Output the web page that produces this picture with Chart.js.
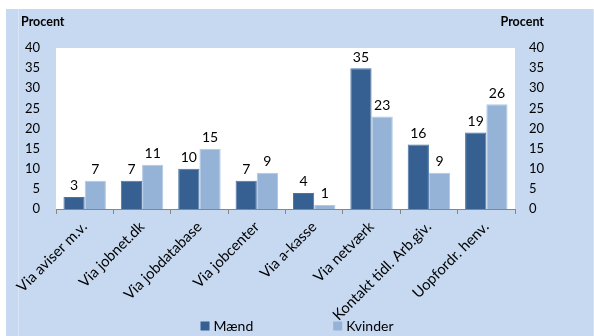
<!DOCTYPE html>
<html>
<head>
<meta charset="utf-8">
<script src="https://cdn.jsdelivr.net/npm/chart.js@4/dist/chart.umd.min.js"></script>
<style>
  html, body { margin: 0; padding: 0; background: #ffffff; }
  #ramme {
    position: absolute; left: 6px; top: 9px; width: 587px; height: 327px;
    background: #c6d9f1; border-right: 1px solid #d6e3f4;
  }
  #streg { position: absolute; left: 18px; top: 9px; width: 1px; height: 327px; background: #d9e5f4; }
  #wrap { position: absolute; left: 0; top: 0; width: 594px; height: 336px; }
</style>
</head>
<body>
<div id="ramme"></div>
<div id="streg"></div>
<div id="wrap"><canvas id="myCanvas"></canvas></div>
<script>
let kategorier = ["Via aviser m.v.", "Via jobnet.dk", "Via jobdatabase", "Via jobcenter",
  "Via a-kasse", "Via netværk", "Kontakt tidl. Arb.giv.", "Uopfordr. henv."];
let maend = [3, 7, 10, 7, 4, 35, 16, 19];
let kvinder = [7, 11, 15, 9, 1, 23, 9, 26];
let yMin = 0;
let yMax = 40;
let yStep = 5;

let skrift = "Lato";

// tal over søjlerne
let vaerdiPlugin = {
  id: "vaerdier",
  afterDatasetsDraw(chart) {
    let ctx = chart.ctx;
    ctx.save();
    ctx.font = "14px " + skrift;
    ctx.fillStyle = "#000000";
    ctx.textAlign = "center";
    ctx.textBaseline = "bottom";
    chart.data.datasets.forEach((ds, i) => {
      chart.getDatasetMeta(i).data.forEach((bar, j) => {
        ctx.fillText(ds.data[j], bar.x, bar.y - 4);
      });
    });
    ctx.restore();
  }
};

// aksetitler og forklaring
let tekstPlugin = {
  id: "tekster",
  afterDraw(chart) {
    let ctx = chart.ctx;
    ctx.save();
    ctx.fillStyle = "#000000";
    ctx.textBaseline = "middle";
    ctx.font = "bold 12.5px " + skrift;
    ctx.textAlign = "left";
    ctx.fillText("Procent", 21, 22);
    ctx.textAlign = "right";
    ctx.fillText("Procent", 544, 22);

    ctx.font = "14px " + skrift;
    ctx.textAlign = "left";
    let ds = chart.data.datasets;
    let boks = 9, luft = 4, mellem = 80;
    let bredder = ds.map(d => boks + luft + ctx.measureText(d.label).width);
    let total = bredder.reduce((a, b) => a + b, 0) + mellem * (ds.length - 1);
    let x = chart.width / 2 - total / 2;
    let y = 326;
    ds.forEach((d, i) => {
      ctx.fillStyle = d.backgroundColor;
      ctx.fillRect(x, y - 4.5, boks, boks);
      ctx.fillStyle = "#000000";
      ctx.fillText(d.label, x + boks + luft, y);
      x += bredder[i] + mellem;
    });
    ctx.restore();
  }
};

let plotBaggrund = {
  id: "plotBaggrund",
  beforeDraw(chart) {
    let a = chart.chartArea;
    let ctx = chart.ctx;
    ctx.save();
    ctx.fillStyle = "#ffffff";
    ctx.fillRect(a.left, a.top, a.right - a.left, a.bottom - a.top);
    ctx.restore();
  }
};

Chart.defaults.font.family = skrift;
Chart.defaults.color = "#000000";

let myCanvas = document.querySelector("#myCanvas").getContext("2d");
let chart = new Chart(myCanvas, {
  type: "bar",
  data: {
    labels: kategorier,
    datasets: [
      {
        label: "Mænd",
        data: maend,
        backgroundColor: "#376092",
        borderColor: "#4a73a6",
        borderWidth: 1,
        yAxisID: "y"
      },
      {
        label: "Kvinder",
        data: kvinder,
        backgroundColor: "#95b3d7",
        borderColor: "#b3c9e3",
        borderWidth: 1,
        yAxisID: "y"
      }
    ]
  },
  options: {
    responsive: true,
    maintainAspectRatio: false,
    animation: false,
    categoryPercentage: 0.74,
    barPercentage: 1,
    layout: { padding: { top: 48, left: 0, right: 0, bottom: 0 } },
    plugins: {
      legend: { display: false },
      tooltip: { enabled: false }
    },
    scales: {
      x: {
        grid: {
          display: true,
          drawOnChartArea: false,
          drawTicks: true,
          tickLength: 5,
          color: "#868686"
        },
        border: { display: true, color: "#868686" },
        ticks: {
          autoSkip: false,
          minRotation: 45,
          maxRotation: 45,
          padding: 4,
          font: { size: 14.8 }
        },
        afterFit(scale) { scale.height = 127; }
      },
      y: {
        position: "left",
        min: yMin,
        max: yMax,
        grid: { display: false, drawTicks: false },
        border: { display: false },
        ticks: { stepSize: yStep, padding: 16, font: { size: 13 } },
        afterFit(scale) { scale.width = 56; }
      },
      y2: {
        position: "right",
        min: yMin,
        max: yMax,
        grid: { display: false, drawTicks: false },
        border: { display: false },
        ticks: { stepSize: yStep, padding: 14, font: { size: 13 } },
        afterFit(scale) { scale.width = 79; }
      }
    }
  },
  plugins: [plotBaggrund, vaerdiPlugin, tekstPlugin]
});
</script>
</body>
</html>
